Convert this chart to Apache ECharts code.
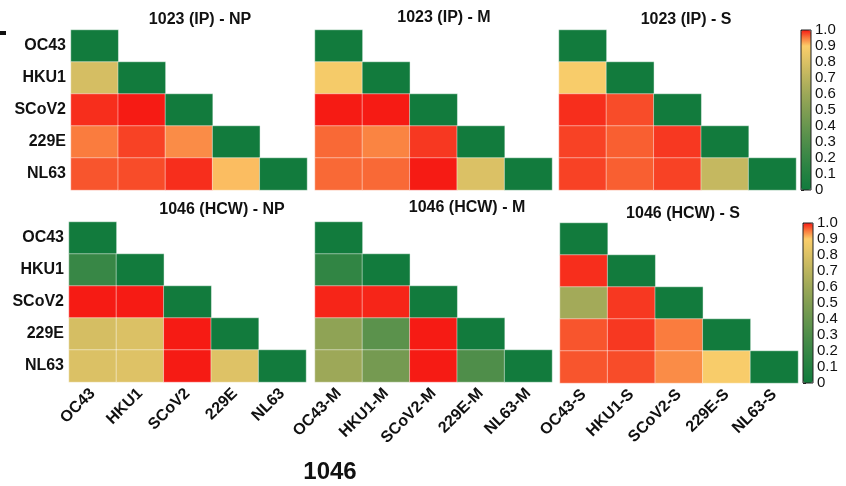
<!DOCTYPE html>
<html>
<head>
<meta charset="utf-8">
<script src="https://cdn.jsdelivr.net/npm/echarts@6/dist/echarts.min.js"></script>
<style>
  html, body { margin: 0; padding: 0; background: #fff; }
  #chart { width: 846px; height: 486px; }
</style>
</head>
<body>
<div id="chart"></div>
<script>
// virus names (rows / y axis, same for every panel)
const virusRows = ['OC43', 'HKU1', 'SCoV2', '229E', 'NL63']
// x tick labels of the bottom panels
const xLabelsNP = ['OC43', 'HKU1', 'SCoV2', '229E', 'NL63']
const xLabelsM = ['OC43-M', 'HKU1-M', 'SCoV2-M', '229E-M', 'NL63-M']
const xLabelsS = ['OC43-S', 'HKU1-S', 'SCoV2-S', '229E-S', 'NL63-S']
const panelTitles = ['1023 (IP) - NP', '1023 (IP) - M', '1023 (IP) - S',
  '1046 (HCW) - NP', '1046 (HCW) - M', '1046 (HCW) - S']
const colorTicks = [0, 0.1, 0.2, 0.3, 0.4, 0.5, 0.6, 0.7, 0.8, 0.9, 1.0]

// lower triangle values, row by row (row i has i+1 values)
const ipNP = [
  [0],
  [0.78, 0],
  [0.99, 1.0, 0],
  [0.95, 0.98, 0.94, 0],
  [0.97, 0.975, 0.99, 0.91, 0]
]
const ipM = [
  [0],
  [0.88, 0],
  [1.0, 1.0, 0],
  [0.96, 0.945, 0.985, 0],
  [0.96, 0.96, 1.0, 0.8, 0]
]
const ipS = [
  [0],
  [0.89, 0],
  [0.99, 0.975, 0],
  [0.98, 0.965, 0.985, 0],
  [0.98, 0.965, 0.98, 0.73, 0]
]
const hcwNP = [
  [0],
  [0.2, 0],
  [1.0, 1.0, 0],
  [0.78, 0.8, 1.0, 0],
  [0.8, 0.81, 1.0, 0.81, 0]
]
const hcwM = [
  [0],
  [0.17, 0],
  [0.995, 0.995, 0],
  [0.55, 0.35, 1.0, 0],
  [0.6, 0.45, 1.0, 0.3, 0]
]
const hcwS = [
  [0],
  [0.99, 0],
  [0.62, 0.985, 0],
  [0.97, 0.985, 0.95, 0],
  [0.97, 0.975, 0.94, 0.89, 0]
]

const panels = [ipNP, ipM, ipS, hcwNP, hcwM, hcwS]
const xLabels = [xLabelsNP, xLabelsM, xLabelsS, xLabelsNP, xLabelsM, xLabelsS]

// colour scale 0 -> 1 (green, olive, yellow, orange, red)
const scaleColors = [
  '#127b3d', '#1a7e3f', '#238141', '#2d8443', '#388746', '#438a48',
  '#4f8e4a', '#5b924c', '#68964f', '#759a51', '#829e53', '#8fa355',
  '#9da858', '#acae5b', '#bbb45e', '#cbba61', '#dbc165', '#ebc868',
  '#fbcd6a', '#fa7c3e', '#f61b14'
]

const grids = [
  { left: 71, top: 30, width: 236, height: 160 },
  { left: 315, top: 30, width: 237, height: 160 },
  { left: 559, top: 30, width: 237, height: 160 },
  { left: 69, top: 222, width: 237, height: 160 },
  { left: 315, top: 222, width: 237, height: 160 },
  { left: 560, top: 223, width: 238, height: 160 }
]
const titlePos = [
  { x: 200, y: 12 }, { x: 444, y: 10 }, { x: 686, y: 12 },
  { x: 222, y: 202 }, { x: 467, y: 200 }, { x: 683, y: 206 }
]

function toCells(tri) {
  const out = []
  tri.forEach((row, i) => {
    row.forEach((v, j) => {
      out.push([j, i, v])
    })
  })
  return out
}

const chart = echarts.init(document.getElementById('chart'))

const option = {
  animation: false,
  textStyle: { fontFamily: 'Liberation Sans, Arial, sans-serif' },
  title: panelTitles.map((t, i) => ({
    text: t,
    left: titlePos[i].x,
    top: titlePos[i].y,
    textAlign: 'center',
    padding: 0,
    textStyle: { fontSize: 16, fontWeight: 'bold', color: '#111' }
  })).concat([{
    text: '1046',
    left: 330,
    top: 460,
    textAlign: 'center',
    padding: 0,
    textStyle: { fontSize: 24, fontWeight: 'bold', color: '#111' }
  }]),
  grid: grids.concat([
    // colour bar frames
    { left: 801, top: 30, width: 10, height: 160, show: true, z: 10,
      backgroundColor: 'transparent', borderColor: '#222', borderWidth: 1 },
    { left: 803, top: 223, width: 10, height: 160, show: true, z: 10,
      backgroundColor: 'transparent', borderColor: '#222', borderWidth: 1 }
  ]),
  xAxis: panels.map((p, i) => ({
    type: 'category',
    gridIndex: i,
    data: xLabels[i],
    axisLine: { show: false },
    axisTick: { show: false },
    splitArea: { show: false },
    axisLabel: {
      show: i >= 3,
      interval: 0,
      rotate: 45,
      margin: 9,
      fontSize: 16,
      fontWeight: 'bold',
      color: '#111'
    }
  })).concat([
    { type: 'value', gridIndex: 6, show: false },
    { type: 'value', gridIndex: 7, show: false }
  ]),
  yAxis: panels.map((p, i) => ({
    type: 'category',
    gridIndex: i,
    data: virusRows,
    inverse: true,
    axisLine: { show: false },
    axisTick: { show: false },
    splitArea: { show: false },
    axisLabel: {
      show: i === 0 || i === 3,
      margin: 5,
      fontSize: 16,
      fontWeight: 'bold',
      color: '#111'
    }
  })).concat([6, 7].map(g => ({
    type: 'value',
    gridIndex: g,
    position: 'right',
    min: colorTicks[0],
    max: colorTicks[colorTicks.length - 1],
    interval: 0.1,
    splitLine: { show: false },
    axisLine: { show: false },
    axisTick: { show: true, length: 3, lineStyle: { color: '#222' } },
    axisLabel: {
      margin: 4,
      fontSize: 15,
      color: '#111',
      formatter: v => (v === 0 ? '0' : v.toFixed(1))
    }
  }))),
  visualMap: [
    { type: 'continuous', min: 0, max: 1, seriesIndex: [0, 1, 2],
      left: 801, top: 30, itemWidth: 10, itemHeight: 160, padding: 0,
      calculable: false, hoverLink: false, inRange: { color: scaleColors } },
    { type: 'continuous', min: 0, max: 1, seriesIndex: [3, 4, 5],
      left: 803, top: 223, itemWidth: 10, itemHeight: 160, padding: 0,
      calculable: false, hoverLink: false, inRange: { color: scaleColors } }
  ],
  graphic: [{
    type: 'rect', left: 0, top: 31,
    shape: { width: 6, height: 4 },
    style: { fill: '#111' }
  }],
  series: panels.map((p, i) => ({
    type: 'heatmap',
    xAxisIndex: i,
    yAxisIndex: i,
    data: toCells(p),
    itemStyle: { borderColor: 'rgba(255,255,255,0.45)', borderWidth: 1 },
    emphasis: { disabled: true }
  }))
}

chart.setOption(option)
</script>
</body>
</html>
